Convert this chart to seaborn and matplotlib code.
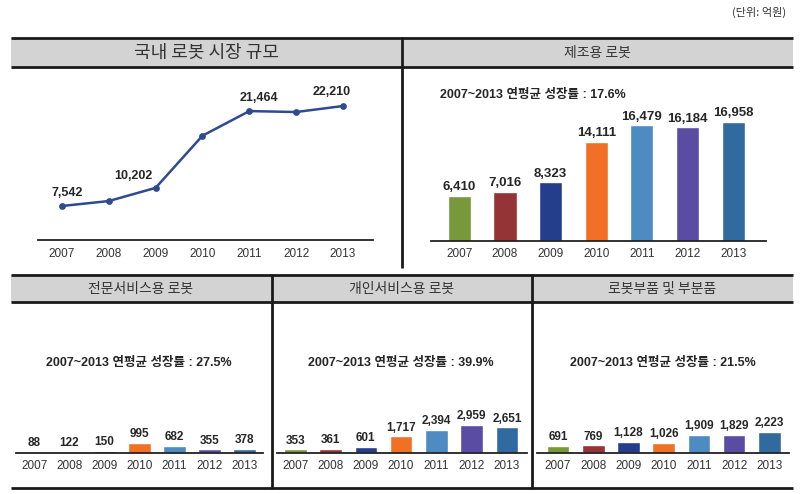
import matplotlib.pyplot as plt
import seaborn as sns
from matplotlib.patches import Rectangle
from matplotlib.lines import Line2D
from matplotlib import font_manager

# data (unit: 억원)
years = ["2007", "2008", "2009", "2010", "2011", "2012", "2013"]
total = [7542, 8268, 10202, 17849, 21464, 21327, 22210]
manufacturing = [6410, 7016, 8323, 14111, 16479, 16184, 16958]
pro_service = [88, 122, 150, 995, 682, 355, 378]
personal_service = [353, 361, 601, 1717, 2394, 2959, 2651]
parts = [691, 769, 1128, 1026, 1909, 1829, 2223]
total_labeled = ["2007", "2009", "2011", "2013"]

growth_mfg = "17.6%"
growth_pro = "27.5%"
growth_personal = "39.9%"
growth_parts = "21.5%"

bar_colors = ["#77993B", "#943437", "#253E8C", "#F07125", "#4E8BC2", "#5A4BA3", "#316A9F"]
line_color = "#2E4B8F"

sns.set_style("white")
installed = {f.name for f in font_manager.fontManager.ttflist}
num_font = "Liberation Sans Narrow" if "Liberation Sans Narrow" in installed else "Liberation Sans"
fam = [num_font, "Noto Sans CJK KR", "DejaVu Sans"]
kr = ["Noto Sans CJK KR", "DejaVu Sans"]
plt.rcParams["font.family"] = fam

W, H = 800, 494
fig = plt.figure(figsize=(8, 4.94), dpi=100)


def fx(x):
    return x / W


def fy(y):
    return 1 - y / H


def rect(x0, y0, x1, y1):
    return [fx(x0), fy(y1), (x1 - x0) / W, (y1 - y0) / H]


def hline(x0, x1, y, lw=2.0):
    fig.add_artist(Line2D([fx(x0), fx(x1)], [fy(y), fy(y)], transform=fig.transFigure,
                          color="#1a1a1a", lw=lw, solid_capstyle="butt"))


def vline(x, y0, y1, lw=2.0):
    fig.add_artist(Line2D([fx(x), fx(x)], [fy(y0), fy(y1)], transform=fig.transFigure,
                          color="#1a1a1a", lw=lw, solid_capstyle="butt"))


def header(x0, x1, y0, y1):
    fig.add_artist(Rectangle((fx(x0), fy(y1)), (x1 - x0) / W, (y1 - y0) / H,
                             transform=fig.transFigure, facecolor="#D3D3D3", edgecolor="none"))
    hline(x0, x1, y0)
    hline(x0, x1, y1)


# frames
header(11, 793, 38, 67)
header(11, 793, 275, 302)
vline(402, 37, 268)
vline(272, 274, 489)
vline(532, 274, 489)
hline(11, 793, 488)

fig.text(fx(786), fy(12), "(단위: 억원)", ha="right", va="center", fontsize=8,
         color="#333333", family=kr)
fig.text(fx(206), fy(52.5), "국내 로봇 시장 규모", ha="center", va="center", fontsize=13,
         color="#333333", family=kr)
fig.text(fx(597), fy(52.5), "제조용 로봇", ha="center", va="center", fontsize=10,
         color="#333333", family=kr)
for cx, t in [(141, "전문서비스용 로봇"), (402, "개인서비스용 로봇"), (662, "로봇부품 및 부분품")]:
    fig.text(fx(cx), fy(288.5), t, ha="center", va="center", fontsize=10,
             color="#333333", family=kr)


def style_axis(ax, xlim, ylim, pad):
    ax.set_xlim(*xlim)
    ax.set_ylim(*ylim)
    ax.set_facecolor("none")
    for s in ["top", "left", "right"]:
        ax.spines[s].set_visible(False)
    ax.spines["bottom"].set_color("#222222")
    ax.spines["bottom"].set_linewidth(1.3)
    ax.set_yticks([])
    ax.set_xlabel("")
    ax.set_ylabel("")
    ax.tick_params(axis="x", length=0, pad=pad, labelsize=8.5, labelcolor="#333333")


# ---- total market line chart ----
ax = fig.add_axes(rect(38, 70, 373, 240))
sns.pointplot(x=years, y=total, color=line_color, markers="o", markersize=3.5,
              linewidth=1.8, ax=ax)
style_axis(ax, (-0.51, 6.64), (2555, 27491), 6)
offsets = {"2007": (4, 5), "2009": (-16, 4), "2011": (7, 5), "2013": (-8, 6)}
for i, (yr, v) in enumerate(zip(years, total)):
    if yr in total_labeled:
        ax.annotate(f"{v:,}", (i, v), xytext=offsets[yr], textcoords="offset points",
                    ha="center", va="bottom", fontsize=9, fontweight="bold")


def bar_panel(box, values, xlim, ymax, width, growth, gx, gy, ha, lsize):
    ax = fig.add_axes(rect(*box))
    sns.barplot(x=years, y=values, hue=years, palette=bar_colors, legend=False,
                width=width, saturation=1, ax=ax)
    style_axis(ax, xlim, (0, ymax), 5)
    for c in ax.containers:
        ax.bar_label(c, labels=[f"{b.get_height():,.0f}" for b in c], padding=2,
                     fontsize=lsize, fontweight="bold")
    fig.text(fx(gx), fy(gy), f"2007~2013 연평균 성장률 : {growth}", ha=ha, va="center",
             fontsize=9, fontweight="bold", family=fam)
    return ax


bar_panel((431, 70, 766, 240.7), manufacturing, (-0.62, 6.72), 24400, 0.51,
          growth_mfg, 440, 95, "left", 9.5)
bar_panel((16, 305, 263, 452.7), pro_service, (-0.52, 6.53), 15500, 0.64,
          growth_pro, 139, 363, "center", 8.5)
bar_panel((277, 305, 527, 452.7), personal_service, (-0.52, 6.57), 15500, 0.64,
          growth_personal, 401, 363, "center", 8.5)
bar_panel((537, 305, 789, 452.7), parts, (-0.6, 6.56), 15500, 0.64,
          growth_parts, 663, 363, "center", 8.5)

fig.savefig("out.png", dpi=100, facecolor="white")
